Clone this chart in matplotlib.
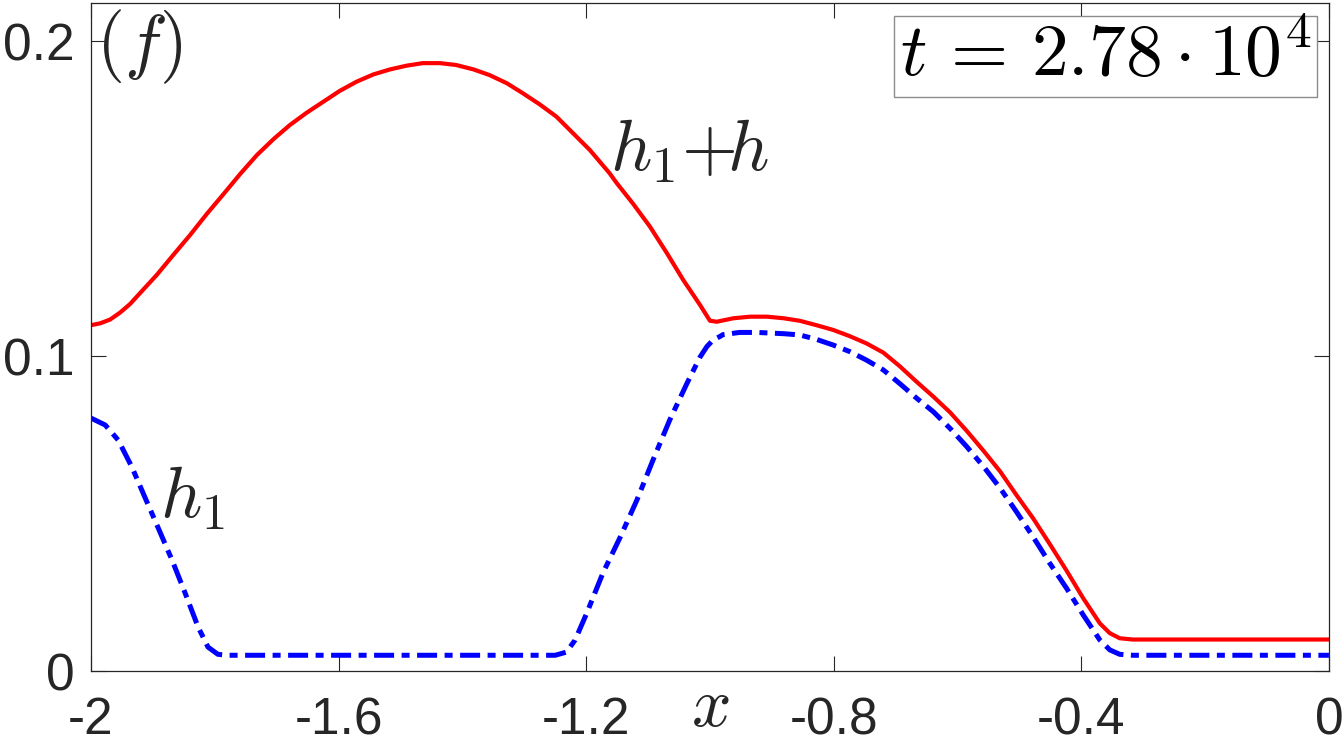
import matplotlib
matplotlib.use("Agg")
import matplotlib.pyplot as plt

# h1 + h (red, solid)
x_red = [-2.000, -1.985, -1.969, -1.953, -1.937, -1.916, -1.894, -1.867, -1.840,
         -1.813, -1.786, -1.759, -1.732, -1.705, -1.679, -1.652, -1.625, -1.598,
         -1.571, -1.544, -1.517, -1.490, -1.464, -1.436, -1.410, -1.382, -1.356,
         -1.328, -1.302, -1.275, -1.248, -1.221, -1.194, -1.162, -1.151, -1.124,
         -1.097, -1.070, -1.043, -1.016, -1.000, -0.989, -0.962, -0.935, -0.908,
         -0.881, -0.855, -0.828, -0.801, -0.774, -0.747, -0.720, -0.693, -0.666,
         -0.639, -0.612, -0.585, -0.558, -0.531, -0.505, -0.478, -0.451, -0.424,
         -0.397, -0.370, -0.354, -0.338, -0.317, -0.200, -0.100, 0.000]
y_red = [0.1098, 0.1104, 0.1116, 0.1138, 0.1165, 0.1210, 0.1257, 0.1321, 0.1384,
         0.1451, 0.1514, 0.1578, 0.1638, 0.1689, 0.1733, 0.1772, 0.1807, 0.1842,
         0.1871, 0.1894, 0.1910, 0.1922, 0.1930, 0.1930, 0.1924, 0.1910, 0.1892,
         0.1866, 0.1834, 0.1799, 0.1760, 0.1707, 0.1654, 0.1580, 0.1550, 0.1483,
         0.1411, 0.1328, 0.1241, 0.1162, 0.1112, 0.1109, 0.1120, 0.1125, 0.1125,
         0.1120, 0.1112, 0.1098, 0.1083, 0.1063, 0.1040, 0.1011, 0.0967, 0.0918,
         0.0871, 0.0821, 0.0762, 0.0699, 0.0633, 0.0559, 0.0485, 0.0403, 0.0319,
         0.0231, 0.0151, 0.0120, 0.0104, 0.0100, 0.0100, 0.0100, 0.0100]

# h1 (blue, dash-dot)
x_blue = [-2.000, -1.977, -1.956, -1.934, -1.913, -1.892, -1.869, -1.848, -1.827,
          -1.811, -1.795, -1.780, -1.500, -1.250, -1.232, -1.218, -1.199, -1.173,
          -1.145, -1.118, -1.092, -1.065, -1.037, -1.016, -1.005, -0.995, -0.984,
          -0.979, -0.952, -0.924, -0.881, -0.855, -0.828, -0.801, -0.774, -0.747,
          -0.720, -0.693, -0.666, -0.639, -0.612, -0.585, -0.558, -0.531, -0.505,
          -0.478, -0.451, -0.424, -0.397, -0.370, -0.354, -0.338, -0.317, -0.200,
          0.000]
y_blue = [0.0803, 0.0781, 0.0733, 0.0648, 0.0552, 0.0457, 0.0352, 0.0248, 0.0140,
          0.0076, 0.0053, 0.0050, 0.0050, 0.0050, 0.0060, 0.0098, 0.0184, 0.0311,
          0.0425, 0.0543, 0.0670, 0.0797, 0.0914, 0.0997, 0.1030, 0.1051, 0.1062,
          0.1068, 0.1075, 0.1075, 0.1071, 0.1067, 0.1053, 0.1035, 0.1014, 0.0987,
          0.0956, 0.0912, 0.0866, 0.0823, 0.0770, 0.0712, 0.0649, 0.0580, 0.0506,
          0.0426, 0.0342, 0.0263, 0.0178, 0.0098, 0.0067, 0.0053, 0.0050, 0.0050,
          0.0050]

xticks = [-2, -1.6, -1.2, -0.8, -0.4, 0]
xtick_labels = ["-2", "-1.6", "-1.2", "-0.8", "-0.4", "0"]
yticks = [0, 0.1, 0.2]
ytick_labels = ["0", "0.1", "0.2"]

plt.rcParams["mathtext.fontset"] = "cm"
plt.rcParams["font.family"] = ["Liberation Sans", "DejaVu Sans"]
dark = "#262626"

fig = plt.figure(figsize=(13.44, 7.44), dpi=100)
ax = fig.add_axes([0.0677, 0.0981, 0.9211, 0.8979])

ax.plot(x_red, y_red, color="red", lw=3.0, solid_joinstyle="round")
ax.plot(x_blue, y_blue, color="blue", lw=3.6, linestyle=(0, (4, 1.5, 1.6, 1.5)))

ax.set_xlim(-2, 0)
ax.set_ylim(0, 0.2121)
ax.set_xticks(xticks)
ax.set_xticklabels(xtick_labels)
ax.set_yticks(yticks)
ax.set_yticklabels(ytick_labels)
ax.tick_params(direction="in", length=11, width=0.8, top=True, right=True,
               labelsize=37, color=dark, labelcolor=dark)
ax.tick_params(axis="x", pad=18)
ax.tick_params(axis="y", pad=12)
for sp in ax.spines.values():
    sp.set_linewidth(0.9)
    sp.set_color(dark)

ax.set_xlabel("$x$", fontsize=50, color=dark)
ax.xaxis.set_label_coords(0.5, -0.008)

# labels
ax.text(0.004, 0.993, "$(f)$", transform=ax.transAxes, fontsize=52,
        color=dark, ha="left", va="top")
ax.text(-1.889, 0.0486, "$h_1$", fontsize=52, color=dark, ha="left", va="baseline")
ax.text(-1.162, 0.159, "$h_1{+}\\!h$", fontsize=52, color=dark, ha="left", va="baseline")
ax.text(0.9855, 0.972, "$t\\,=\\,2.78\\cdot10^4$", transform=ax.transAxes,
        fontsize=53, color="black", ha="right", va="top",
        bbox=dict(boxstyle="square,pad=0.08", fc="white", ec="#8c8c8c", lw=1))

fig.savefig("out.png", dpi=100)
